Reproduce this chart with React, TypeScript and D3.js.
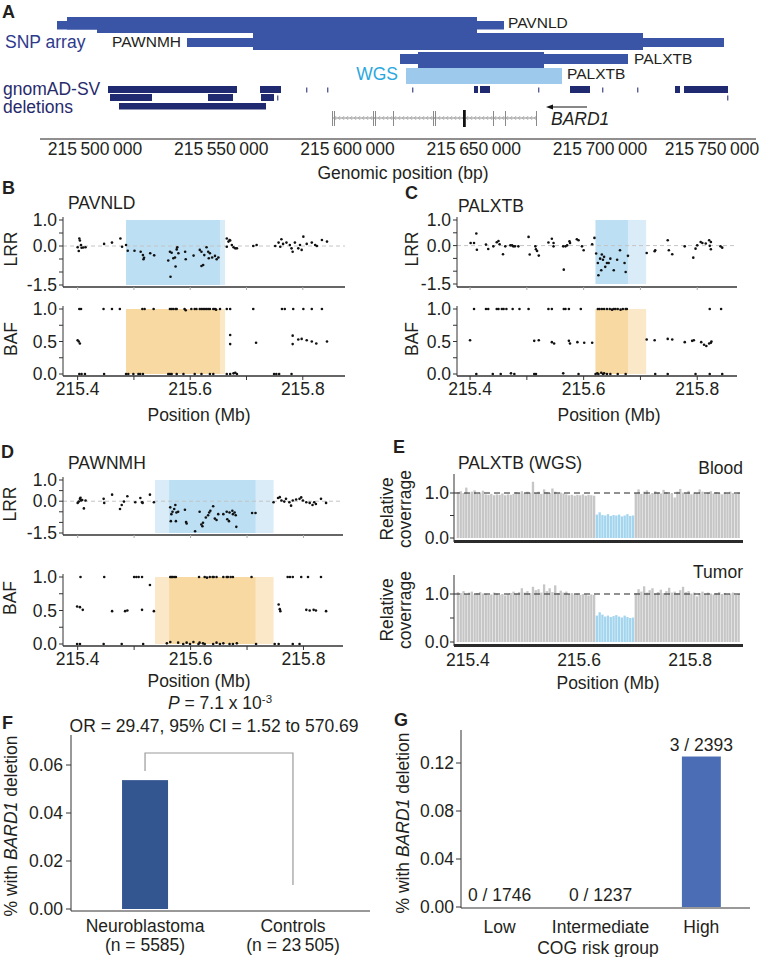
import React from "react";
import * as d3 from "d3";

const FONT = "'Liberation Sans', Arial, Helvetica, sans-serif";
const INK = "#231f20";
const AX = "#333333";

// ================= Panel A data =================
const genomicTicks = [215500000, 215550000, 215600000, 215650000, 215700000, 215750000];
const snpSamples = ["PAVNLD", "PAWNMH", "PALXTB"];
const snpOuterStart = [215484950, 215536436, 215620792];
const snpOuterEnd = [215661980, 215749109, 215711089];
const snpInnerStart = [215500792, 215562574, 215627921];
const snpInnerEnd = [215651287, 215717030, 215677822];
const snpSecondCallStart = [215488911, null, null];
const wgsSample = "PALXTB";
const wgsStart = 215623168;
const wgsEnd = 215684951;
const gnomadStart = [
  215505149, 215565347, 215583564, 215591881, 215625545, 215650099, 215652475, 215675446, 215688119, 215700792, 215714654, 215729703, 215733268,
  215505941, 215544753, 215565743, 215572079, 215750297,
  215509505,
];
const gnomadEnd = [
  215556238, 215573663, 215583900, 215592200, 215625900, 215651683, 215656436, 215675800, 215696040, 215701100, 215715000, 215731683, 215750693,
  215522574, 215554654, 215570891, 215572400, 215750650,
  215567723,
];
const gnomadRow = [0, 0, 0, 0, 0, 0, 0, 0, 0, 0, 0, 0, 0, 1, 1, 1, 1, 1, 2];
const bard1Start = 215593861;
const bard1End = 215675050;
const bard1Exons = [215593861, 215594653, 215610099, 215610891, 215618020, 215633862, 215634654, 215645743, 215657624, 215662376, 215674654];
const bard1ExonLen = [350, 350, 350, 350, 350, 350, 350, 1100, 350, 350, 350];

// ================= Panels B-D data (Mb, value) =================
type Pt = [number, number];
const mbTicks = [215.4, 215.6, 215.8];
const mbMinorTicks = [215.4, 215.5, 215.6, 215.7, 215.8];
const lrrTicks = [-1.5, -1, -0.5, 0, 0.5, 1];
const lrrLabels = [-1.5, 0, 1];
const bafTicks = [0, 0.25, 0.5, 0.75, 1];
const bafLabels = [0, 0.5, 1];

const bLrr: Pt[] = [
  [215.400, -0.05], [215.402, -0.19], [215.403, 0.29], [215.404, 0.21], [215.406, 0.04], [215.407, -0.07], [215.410, -0.06], [215.414, -0.05],
  [215.447, 0.08], [215.461, 0.13], [215.476, 0.29], [215.479, -0.03], [215.486, 0.04], [215.489, -0.18],
  [215.501, -0.18], [215.512, -0.22], [215.516, -0.35], [215.517, -0.51], [215.518, -0.45], [215.529, -0.28], [215.536, -0.36],
  [215.561, -0.56], [215.564, -0.22], [215.567, -0.26], [215.565, -1.18], [215.570, -0.47], [215.573, -0.44], [215.574, -0.79], [215.576, -0.13],
  [215.577, -0.05], [215.579, -0.28], [215.591, -0.22], [215.592, -0.51], [215.606, -0.37], [215.617, -0.15], [215.620, -0.22], [215.620, -0.77],
  [215.623, -0.73], [215.625, -0.35], [215.629, -0.05], [215.632, -0.22], [215.633, -0.47], [215.635, -0.28], [215.639, -0.44], [215.644, -0.38],
  [215.647, -0.51], [215.650, -0.44],
  [215.665, 0.29], [215.668, 0.17], [215.671, 0.21], [215.674, 0.04], [215.677, -0.05], [215.680, -0.09], [215.683, -0.09], [215.665, -0.03], [215.670, 0.23],
  [215.712, 0], [215.718, 0.04],
  [215.751, 0], [215.757, 0.13], [215.760, -0.03], [215.762, 0.26], [215.765, 0.08], [215.771, 0.13], [215.777, 0.04], [215.780, -0.09], [215.782, -0.22],
  [215.786, 0.13], [215.792, -0.09], [215.795, 0.04], [215.798, -0.15], [215.801, 0.36], [215.807, 0.08], [215.816, 0.13], [215.822, 0.04], [215.825, 0],
  [215.834, 0.23], [215.843, 0.17],
];
const bBaf: Pt[] = [
  [215.403, 1], [215.406, 1], [215.446, 1], [215.461, 1], [215.475, 1], [215.515, 1], [215.519, 1], [215.535, 1], [215.564, 1], [215.567, 1],
  [215.570, 1], [215.574, 1], [215.576, 1], [215.590, 1], [215.592, 0.98], [215.602, 1], [215.608, 1], [215.611, 1], [215.617, 1], [215.620, 1],
  [215.623, 1], [215.626, 1], [215.629, 1], [215.632, 1], [215.635, 1], [215.641, 1], [215.644, 1], [215.646, 0.99], [215.653, 1], [215.665, 1],
  [215.671, 1], [215.712, 1], [215.763, 1], [215.768, 1], [215.783, 1], [215.801, 1], [215.816, 1], [215.834, 1],
  [215.400, 0.52], [215.402, 0.5], [215.404, 0.47], [215.671, 0.6], [215.671, 0.46], [215.717, 0.48], [215.782, 0.59], [215.782, 0.46],
  [215.792, 0.53], [215.798, 0.54], [215.807, 0.52], [215.816, 0.5], [215.824, 0.47], [215.843, 0.5],
  [215.403, 0], [215.407, 0], [215.413, 0], [215.447, 0], [215.486, 0], [215.490, 0], [215.499, 0], [215.508, 0], [215.511, 0], [215.516, 0],
  [215.561, 0], [215.564, 0], [215.567, 0], [215.576, 0], [215.588, 0], [215.608, 0], [215.620, 0], [215.635, 0], [215.641, 0], [215.665, 0],
  [215.671, 0], [215.677, 0.01], [215.680, 0.02], [215.683, 0], [215.749, 0], [215.753, 0], [215.758, 0], [215.780, 0],
];

const cLrr: Pt[] = [
  [215.401, 0.10], [215.407, 0.10], [215.411, 0.47], [215.412, -0.16], [215.428, 0.04], [215.432, -0.13], [215.441, -0.03], [215.447, 0.13],
  [215.450, 0.18], [215.452, 0.05], [215.458, -0.34], [215.462, -0.03], [215.471, 0.01], [215.474, 0.01], [215.476, -0.03], [215.479, -0.03],
  [215.485, -0.03], [215.503, 0.34], [215.505, -0.35], [215.515, -0.03], [215.516, -0.14], [215.518, -0.21], [215.521, -0.39],
  [215.538, 0.12], [215.544, 0.27], [215.547, 0.10], [215.547, -0.03], [215.564, -0.03], [215.565, -0.94], [215.568, -0.03], [215.571, 0.01],
  [215.575, 0.17], [215.576, 0.10], [215.588, 0.25], [215.591, 0.21], [215.597, -0.03], [215.600, -0.18], [215.615, 0.05], [215.619, 0.30],
  [215.622, -0.31], [215.625, -0.68], [215.626, -1.16], [215.629, -0.51], [215.631, -0.96], [215.632, -0.35], [215.634, -0.55], [215.636, -0.44],
  [215.638, -0.83], [215.641, -0.68], [215.644, -0.68], [215.647, -0.51], [215.653, -0.96], [215.659, -0.55], [215.664, -0.18], [215.672, -0.68],
  [215.674, -1.03], [215.678, -0.40],
  [215.711, -0.29], [215.725, -0.22], [215.726, -0.18], [215.748, 0.21], [215.750, -0.18], [215.756, -0.34], [215.778, -0.03], [215.793, -0.47],
  [215.797, -0.12], [215.800, 0.01], [215.806, 0.14], [215.809, 0.10], [215.815, 0.08], [215.821, 0.21], [215.822, -0.01], [215.824, -0.14],
  [215.824, 0.14], [215.841, -0.03], [215.844, -0.08],
];
const cBaf: Pt[] = [
  [215.407, 1], [215.428, 1], [215.432, 1], [215.447, 1], [215.450, 1], [215.456, 1], [215.459, 1], [215.464, 1], [215.475, 1], [215.487, 1],
  [215.503, 1], [215.538, 1], [215.544, 1], [215.565, 1], [215.568, 1], [215.574, 1], [215.595, 1], [215.625, 1], [215.628, 1], [215.632, 1],
  [215.636, 1], [215.641, 1], [215.646, 1], [215.650, 0.99], [215.653, 1], [215.656, 1], [215.660, 1], [215.665, 0.99], [215.669, 1], [215.674, 1],
  [215.676, 1], [215.822, 1], [215.842, 1],
  [215.400, 0.52], [215.513, 0.51], [215.521, 0.52], [215.544, 0.49], [215.548, 0.47], [215.574, 0.51], [215.576, 0.47], [215.589, 0.49],
  [215.601, 0.48], [215.615, 0.48], [215.711, 0.53], [215.725, 0.52], [215.748, 0.54], [215.756, 0.53], [215.778, 0.49], [215.791, 0.51],
  [215.794, 0.52], [215.807, 0.49], [215.812, 0.45], [215.816, 0.43], [215.821, 0.47], [215.824, 0.48], [215.825, 0.5],
  [215.411, 0], [215.440, 0], [215.454, 0], [215.472, 0.01], [215.478, 0], [215.513, 0], [215.516, 0], [215.564, 0.01], [215.591, 0],
  [215.621, 0], [215.624, 0.01], [215.626, 0], [215.631, 0.02], [215.634, 0], [215.636, 0.01], [215.641, 0], [215.647, 0], [215.660, 0],
  [215.674, 0], [215.726, 0], [215.748, 0], [215.797, 0], [215.822, 0], [215.844, 0],
];

const dLrr: Pt[] = [
  [215.400, -0.08], [215.402, -0.02], [215.404, 0.11], [215.405, 0.16], [215.406, 0.03], [215.408, 0.06], [215.411, -0.34], [215.414, 0.03],
  [215.446, 0.11], [215.447, -0.08], [215.461, 0.31], [215.475, -0.37], [215.478, -0.18], [215.482, -0.02], [215.488, 0.23], [215.502, -0.05],
  [215.511, 0.15], [215.514, -0.05], [215.515, -0.08], [215.528, 0.31], [215.535, -0.05],
  [215.564, -0.29], [215.566, -0.61], [215.568, -0.5], [215.571, -0.37], [215.573, -0.18], [215.574, -0.94], [215.565, -0.94], [215.575, -0.53],
  [215.578, -0.5], [215.590, -0.4], [215.592, -0.98], [215.593, -1.05], [215.608, -1.42], [215.616, -0.5], [215.619, -1.1], [215.621, -1.18],
  [215.622, -1.02], [215.627, -0.77], [215.631, -0.66], [215.633, -0.53], [215.635, -0.45], [215.640, -0.24], [215.643, -0.82], [215.646, -0.89],
  [215.649, -0.61], [215.658, -0.61], [215.664, -0.5], [215.665, -0.85], [215.668, -0.94], [215.669, -0.53], [215.674, -0.45], [215.675, -0.61],
  [215.678, -0.53], [215.680, -0.66], [215.681, -1.21], [215.709, -0.56], [215.715, -0.56],
  [215.747, -0.05], [215.755, 0.15], [215.758, 0.19], [215.761, 0.03], [215.766, -0.02], [215.769, 0.11], [215.775, -0.05], [215.778, -0.21],
  [215.781, 0.03], [215.787, 0.08], [215.793, 0.11], [215.796, 0.18], [215.799, 0.03], [215.805, -0.05], [215.811, -0.08], [215.816, -0.18],
  [215.819, -0.05], [215.822, -0.13], [215.831, 0.11], [215.840, -0.08],
];
const dBaf: Pt[] = [
  [215.405, 1], [215.447, 1], [215.500, 1], [215.504, 1], [215.508, 1], [215.514, 1], [215.564, 1], [215.566, 1], [215.568, 1], [215.571, 1],
  [215.574, 1], [215.615, 1], [215.625, 1], [215.629, 0.99], [215.634, 1], [215.639, 1], [215.641, 1], [215.646, 1], [215.658, 1], [215.664, 1],
  [215.666, 1], [215.671, 1], [215.675, 1], [215.708, 1], [215.772, 1], [215.776, 1], [215.781, 1], [215.796, 1], [215.808, 1], [215.831, 1],
  [215.528, 0.88],
  [215.399, 0.56], [215.404, 0.55], [215.409, 0.51], [215.461, 0.49], [215.484, 0.49], [215.488, 0.5], [215.514, 0.51], [215.535, 0.49],
  [215.756, 0.59], [215.758, 0.52], [215.759, 0.49], [215.805, 0.51], [215.811, 0.5], [215.818, 0.51], [215.822, 0.5], [215.840, 0.49],
  [215.399, 0], [215.404, 0], [215.446, 0], [215.478, 0], [215.516, 0], [215.558, 0.01], [215.564, 0.03], [215.578, 0.02], [215.587, 0],
  [215.593, 0.02], [215.599, 0], [215.605, 0.03], [215.614, 0], [215.616, 0.02], [215.622, 0.01], [215.625, 0], [215.640, 0], [215.646, 0.02],
  [215.652, 0], [215.658, 0.01], [215.669, 0], [215.675, 0], [215.682, 0.01], [215.716, 0], [215.749, 0], [215.756, 0], [215.781, 0], [215.793, 0],
];

// ================= Panel E data =================
const covBinStart = 215.38;
const covBinSize = 0.005;
const wgsDelMb: [number, number] = [215.63, 215.7];
const bloodCov = [
  1.02, 1.04, 1.0, 1.12, 0.99, 1.03, 1.06, 0.98, 1.01, 1.05, 0.97, 0.96, 0.98, 0.95, 0.97, 0.96, 0.99, 0.95, 0.97, 0.96,
  0.98, 1.02, 1.0, 1.04, 0.99, 1.03, 1.01, 1.25, 1.0, 1.03, 0.98, 1.08, 1.02, 1.0, 1.1, 1.03, 0.98, 1.01, 0.99, 0.97,
  0.95, 0.96, 0.94, 0.96, 0.95, 0.97, 0.94, 0.96, 0.95, 0.94,
  0.52, 0.57, 0.51, 0.5, 0.53, 0.49, 0.51, 0.5, 0.52, 0.48, 0.5, 0.53, 0.49, 0.5,
  1.0, 1.08, 0.98, 1.03, 1.06, 0.97, 1.0, 1.04, 1.01, 0.99, 1.07, 1.02, 0.98, 1.0, 0.9, 1.03, 1.09, 1.01, 0.99, 1.05,
  0.97, 1.01, 1.0, 1.08, 1.03, 0.98, 1.01, 1.04, 0.99, 1.02, 1.0, 0.97, 1.01, 0.99, 1.03, 1.0, 0.98, 1.01,
];
const tumorCov = [
  1.04, 1.02, 1.06, 1.0, 1.03, 1.05, 0.99, 1.02, 1.04, 1.01, 1.0, 0.98, 0.99, 1.03, 1.01, 0.98, 1.0, 0.97, 0.99, 1.02,
  1.05, 1.01, 1.04, 1.12, 1.03, 1.06, 1.02, 1.15, 1.08, 1.1, 1.03, 1.2, 1.06, 1.12, 1.04, 1.18, 1.02, 1.07, 1.03, 1.05,
  1.0, 1.02, 0.99, 1.01, 0.98, 1.0, 0.99, 0.97, 0.99, 0.98,
  0.55, 0.62, 0.57, 0.53, 0.55, 0.52, 0.54, 0.56, 0.53, 0.51, 0.55, 0.52, 0.5, 0.51,
  1.02, 1.1, 1.05, 1.16, 1.03, 1.08, 1.12, 1.01, 1.04, 1.09, 1.02, 1.06, 1.13, 1.03, 1.05, 1.02, 1.08, 1.15, 1.04, 1.06,
  1.01, 1.03, 0.95, 1.02, 1.05, 1.0, 1.03, 1.01, 0.99, 1.02, 1.04, 1.0, 1.02, 0.99, 1.01, 1.03, 0.98, 1.0,
];

// ================= Panel F / G data =================
const cohortNames = ["Neuroblastoma", "Controls"];
const cohortN = ["5585", "23\u2009505"];
const cohortPct = [0.0537, 0];
const fTicks = [0, 0.02, 0.04, 0.06];
const bracketTopPct = 0.065;
const bracketRightEndPct = 0.01;
const riskGroups = ["Low", "Intermediate", "High"];
const riskCounts = ["0 / 1746", "0 / 1237", "3 / 2393"];
const riskPct = [0, 0, 0.1254];
const gTicks = [0, 0.04, 0.08, 0.12];

const fmt1 = (v: number) => d3.format(".1f")(v).replace("\u2212", "-");
const fmt2 = (v: number) => d3.format(".2f")(v);

function Letter({ x, y, t }: { x: number; y: number; t: string }) {
  return (
    <text x={x} y={y} fontSize={18} fontWeight="bold" fill={INK} dy="0.35em">{t}</text>
  );
}

function VLabel({ x, y, children, size = 17.5 }: any) {
  return (
    <text transform={`translate(${x},${y}) rotate(-90)`} textAnchor="middle" dy="0.35em" fontSize={size} fill={INK}>
      {children}
    </text>
  );
}

function PanelA() {
  const x = d3.scaleLinear().domain([215500000, 215700000]).range([95, 600]);
  const fmtBp = (v: number) => d3.format(",")(v).replace(/,/g, "\u2009");
  const thick = [[17, 16], [33, 17], [52, 16]];
  const thin = [[21, 8.5], [38, 9], [54, 10]];
  const gRows = [[86, 7], [94, 7], [103, 6.5]];
  const snpCol = "#3a55a5";
  const gnCol = "#202a70";
  const chevrons: number[] = [];
  for (let p = x(bard1Start) + 3; p < x(bard1End) - 2; p += 4) chevrons.push(p);
  return (
    <g>
      <Letter x={2} y={12} t="A" />
      {snpSamples.map((s, i) => (
        <g key={s}>
          <rect x={x(snpOuterStart[i])} y={thin[i][0]} width={x(snpOuterEnd[i]) - x(snpOuterStart[i])} height={thin[i][1]} fill={snpCol} />
          {snpSecondCallStart[i] != null && (
            <rect x={x(snpSecondCallStart[i] as number)} y={thick[i][0]} width={x(snpInnerEnd[i]) - x(snpSecondCallStart[i] as number)} height={thin[i][0] + thin[i][1] - thick[i][0]} fill={snpCol} />
          )}
          <rect x={x(snpInnerStart[i])} y={thick[i][0]} width={x(snpInnerEnd[i]) - x(snpInnerStart[i])} height={thick[i][1]} fill={snpCol} />
        </g>
      ))}
      <text x={x(snpOuterEnd[0]) + 4} y={23} dy="0.35em" fontSize={15.5} fill={INK}>{snpSamples[0]}</text>
      <text x={x(snpOuterStart[1]) - 6} y={42} dy="0.35em" fontSize={15.5} fill={INK} textAnchor="end">{snpSamples[1]}</text>
      <text x={x(snpOuterEnd[2]) + 6} y={59} dy="0.35em" fontSize={15.5} fill={INK}>{snpSamples[2]}</text>
      <text x={5} y={42} dy="0.35em" fontSize={17.5} fill="#2e3a8c">SNP array</text>
      <rect x={x(wgsStart)} y={68} width={x(wgsEnd) - x(wgsStart)} height={16} fill="#9dc9ec" />
      <text x={x(wgsStart) - 8} y={74} dy="0.35em" fontSize={17.5} fill="#2aa8de" textAnchor="end">WGS</text>
      <text x={x(wgsEnd) + 5} y={74} dy="0.35em" fontSize={15.5} fill={INK}>{wgsSample}</text>
      <text x={3} y={89} dy="0.35em" fontSize={17.5} fill="#272b6b">gnomAD-SV</text>
      <text x={3} y={107} dy="0.35em" fontSize={17.5} fill="#272b6b">deletions</text>
      {gnomadStart.map((s, i) => {
        const w = x(gnomadEnd[i]) - x(s);
        const narrow = w < 1.6;
        const r = gRows[gnomadRow[i]];
        return (
          <rect key={i} x={x(s)} y={narrow ? r[0] + 1.5 : r[0]} width={Math.max(w, 1.4)} height={narrow ? r[1] - 2 : r[1]} fill={gnCol} opacity={narrow ? 0.75 : 1} />
        );
      })}
      <line x1={x(bard1Start)} x2={x(bard1End)} y1={118} y2={118} stroke="#8a8a8a" strokeWidth={1} />
      {chevrons.map((p, i) => (
        <path key={i} d={`M${p + 1.2},${116} L${p - 0.6},${118} L${p + 1.2},${120}`} fill="none" stroke="#9a9a9a" strokeWidth={0.7} />
      ))}
      {bard1Exons.map((e, i) => {
        const w = Math.max(x(e + bard1ExonLen[i]) - x(e), 1);
        const big = bard1ExonLen[i] > 500;
        return <rect key={i} x={x(e)} y={big ? 110 : 111} width={w} height={big ? 17 : 15} fill={big ? "#111" : "#8a8a8a"} />;
      })}
      <line x1={x(bard1End) + 50} x2={x(bard1End) + 13} y1={107} y2={107} stroke="#111" strokeWidth={1.2} />
      <path d={`M${x(bard1End) + 9},107 L${x(bard1End) + 16},104.5 L${x(bard1End) + 16},109.5 Z`} fill="#111" />
      <text x={x(bard1End) + 14} y={119} dy="0.35em" fontSize={17.5} fontStyle="italic" fill={INK}>BARD1</text>
      <line x1={40} x2={756} y1={139} y2={139} stroke={INK} strokeWidth={1.2} />
      {genomicTicks.map((t) => {
        const cx = Math.min(x(t), 712);
        return (
          <text key={t} x={cx} y={149} dy="0.35em" fontSize={17.5} textAnchor="middle" fill={INK}>{fmtBp(t)}</text>
        );
      })}
      <text x={403} y={173} dy="0.35em" fontSize={17.5} textAnchor="middle" fill={INK}>Genomic position (bp)</text>
    </g>
  );
}

interface CnvProps {
  xLeft: number; xRight: number; xDom: [number, number];
  lrrY: [number, number]; lrrBottom: number;
  bafY: [number, number]; bafBottom: number;
  lrr: Pt[]; baf: Pt[];
  delOuter: [number, number]; delInner: [number, number];
  letter: string; letterPos: [number, number];
  title: string; titlePos: [number, number];
  yLabelX: number; lrrLabelY: number; bafLabelY: number;
  tickLabelY: number; xTitleX: number; xTitleY: number;
}

function CnvPanel(p: CnvProps) {
  const x = d3.scaleLinear().domain(p.xDom).range([p.xLeft, p.xRight]);
  const yL = d3.scaleLinear().domain([-1.5, 1]).range(p.lrrY);
  const yB = d3.scaleLinear().domain([0, 1]).range(p.bafY);
  const shade = (d: [number, number], y0: number, y1: number, fill: string) => (
    <rect x={x(d[0])} width={x(d[1]) - x(d[0])} y={y0} height={y1 - y0} fill={fill} />
  );
  return (
    <g>
      <Letter x={p.letterPos[0]} y={p.letterPos[1]} t={p.letter} />
      <text x={p.titlePos[0]} y={p.titlePos[1]} dy="0.35em" fontSize={17.5} fill={INK}>{p.title}</text>
      {shade(p.delOuter, yL(1), yL(-1.5), "#d9ecf8")}
      {shade(p.delInner, yL(1), yL(-1.5), "#bcdff3")}
      <line x1={p.xLeft} x2={p.xRight} y1={yL(0)} y2={yL(0)} stroke="#c4c4c4" strokeDasharray="4,3" strokeWidth={1} />
      {p.lrr.map((d, i) => <circle key={i} cx={x(d[0])} cy={yL(d[1])} r={1.3} fill="#111" />)}
      <line x1={p.xLeft} x2={p.xLeft} y1={yL(1) - 3} y2={p.lrrBottom} stroke={AX} strokeWidth={1} />
      <line x1={p.xLeft} x2={p.xRight} y1={p.lrrBottom} y2={p.lrrBottom} stroke={AX} strokeWidth={1.3} />
      {lrrTicks.map((t) => <line key={t} x1={p.xLeft - 4} x2={p.xLeft} y1={yL(t)} y2={yL(t)} stroke={AX} />)}
      {mbMinorTicks.map((t) => <line key={t} x1={x(t)} x2={x(t)} y1={p.lrrBottom} y2={p.lrrBottom + 3} stroke="#aaa" />)}
      {lrrLabels.map((t) => (
        <text key={t} x={p.xLeft - 6} y={yL(t)} dy="0.35em" textAnchor="end" fontSize={17.5} fill={INK}>{fmt1(t)}</text>
      ))}
      <VLabel x={p.yLabelX} y={p.lrrLabelY}>LRR</VLabel>
      {shade(p.delOuter, yB(1), yB(0), "#fbe8c9")}
      {shade(p.delInner, yB(1), yB(0), "#f8d9a2")}
      {p.baf.map((d, i) => <circle key={i} cx={x(d[0])} cy={yB(d[1])} r={1.3} fill="#111" />)}
      <line x1={p.xLeft} x2={p.xLeft} y1={yB(1) - 3} y2={p.bafBottom} stroke={AX} strokeWidth={1} />
      <line x1={p.xLeft} x2={p.xRight} y1={p.bafBottom} y2={p.bafBottom} stroke={AX} strokeWidth={1.3} />
      {bafTicks.map((t) => <line key={t} x1={p.xLeft - 4} x2={p.xLeft} y1={yB(t)} y2={yB(t)} stroke={AX} />)}
      {mbMinorTicks.map((t) => <line key={t} x1={x(t)} x2={x(t)} y1={p.bafBottom} y2={p.bafBottom + 4} stroke={AX} />)}
      {bafLabels.map((t) => (
        <text key={t} x={p.xLeft - 6} y={yB(t)} dy="0.35em" textAnchor="end" fontSize={17.5} fill={INK}>{fmt1(t)}</text>
      ))}
      <VLabel x={p.yLabelX} y={p.bafLabelY}>BAF</VLabel>
      {mbTicks.map((t) => (
        <text key={t} x={x(t)} y={p.tickLabelY} dy="0.35em" textAnchor="middle" fontSize={17.5} fill={INK}>{fmt1(t)}</text>
      ))}
      <text x={p.xTitleX} y={p.xTitleY} dy="0.35em" textAnchor="middle" fontSize={17.5} fill={INK}>Position (Mb)</text>
    </g>
  );
}

function CoverageTrack({ values, y0, y1, axisTop, label, labelY, relY }: any) {
  const x = d3.scaleLinear().domain([215.375, 215.895]).range([454, 743]);
  const y = d3.scaleLinear().domain([0, 1]).range([y0, y1]);
  const bw = x(covBinSize) - x(0);
  return (
    <g>
      {values.map((v: number, i: number) => {
        const s = covBinStart + i * covBinSize;
        const del = s >= wgsDelMb[0] - 1e-9 && s < wgsDelMb[1] - 1e-9;
        return <rect key={i} x={x(s)} y={y(v)} width={bw - 0.45} height={y(0) - y(v)} fill={del ? "#a3d5ef" : "#c6c6c6"} />;
      })}
      <line x1={454} x2={743} y1={y(1)} y2={y(1)} stroke="#222" strokeDasharray="6,4" strokeWidth={1} />
      <rect x={454} y={y(0) + 2} width={289} height={3} fill="#2b2b2b" />
      <line x1={454} x2={454} y1={axisTop} y2={y(0) + 4} stroke={AX} />
      {[0, 0.5, 1].map((t) => <line key={t} x1={450} x2={454} y1={y(t)} y2={y(t)} stroke={AX} />)}
      {[0, 1].map((t) => (
        <text key={t} x={449} y={y(t)} dy="0.35em" textAnchor="end" fontSize={17.5} fill={INK}>{fmt1(t)}</text>
      ))}
      <text x={743} y={labelY} dy="0.35em" textAnchor="end" fontSize={17.5} fill={INK}>{label}</text>
      <VLabel x={387} y={relY}>Relative</VLabel>
      <VLabel x={405} y={relY}>coverrage</VLabel>
    </g>
  );
}

function PanelE() {
  const x = d3.scaleLinear().domain([215.375, 215.895]).range([454, 743]);
  return (
    <g>
      <Letter x={393} y={447} t="E" />
      <text x={458} y={463} dy="0.35em" fontSize={17.5} fill={INK}>PALXTB (WGS)</text>
      <CoverageTrack values={bloodCov} y0={538} y1={493} axisTop={474} label="Blood" labelY={468} relY={509} />
      <CoverageTrack values={tumorCov} y0={642} y1={594} axisTop={575} label="Tumor" labelY={572} relY={610} />
      {mbTicks.map((t) => (
        <text key={t} x={x(t)} y={660} dy="0.35em" textAnchor="middle" fontSize={17.5} fill={INK}>{fmt1(t)}</text>
      ))}
      <text x={608} y={683} dy="0.35em" textAnchor="middle" fontSize={17.5} fill={INK}>Position (Mb)</text>
    </g>
  );
}

function PanelF() {
  const x = d3.scaleBand().domain(cohortNames).range([71, 367]).paddingInner(0.689).paddingOuter(0.345);
  const y = d3.scaleLinear().domain([0, 0.06]).range([909, 765]);
  const c0 = (x(cohortNames[0]) as number) + x.bandwidth() / 2;
  const c1 = (x(cohortNames[1]) as number) + x.bandwidth() / 2;
  return (
    <g>
      <Letter x={2} y={723} t="F" />
      <text x={220} y={703} dy="0.35em" textAnchor="middle" fontSize={17.5} fill={INK}>
        <tspan fontStyle="italic">P</tspan> = 7.1 x 10<tspan dy={-6} fontSize={11.5}>-3</tspan>
      </text>
      <text x={214} y={726} dy="0.35em" textAnchor="middle" fontSize={17.5} fill={INK}>OR = 29.47, 95% CI = 1.52 to 570.69</text>
      {cohortNames.map((c, i) => (
        <rect key={c} x={x(c)} y={y(cohortPct[i])} width={x.bandwidth()} height={y(0) - y(cohortPct[i])} fill="#345690" />
      ))}
      <path d={`M${c0},${y(cohortPct[0]) - 9} V${y(bracketTopPct)} H${c1} V${y(bracketRightEndPct)}`} fill="none" stroke="#9a9a9a" strokeWidth={1.2} />
      <line x1={71} x2={71} y1={735} y2={911} stroke={AX} />
      <line x1={71} x2={370} y1={911} y2={911} stroke={AX} />
      {fTicks.map((t) => (
        <g key={t}>
          <line x1={66} x2={71} y1={y(t)} y2={y(t)} stroke={AX} />
          <text x={63} y={y(t)} dy="0.35em" textAnchor="end" fontSize={17.5} fill={INK}>{fmt2(t)}</text>
        </g>
      ))}
      {cohortNames.map((c, i) => (
        <g key={c}>
          <text x={(x(c) as number) + x.bandwidth() / 2} y={926} dy="0.35em" textAnchor="middle" fontSize={17.5} fill={INK}>{c}</text>
          <text x={(x(c) as number) + x.bandwidth() / 2} y={945} dy="0.35em" textAnchor="middle" fontSize={17.5} fill={INK}>(n = {cohortN[i]})</text>
        </g>
      ))}
      <VLabel x={11} y={826}>% with <tspan fontStyle="italic">BARD1</tspan> deletion</VLabel>
    </g>
  );
}

function PanelG() {
  const x = d3.scaleBand().domain(riskGroups).range([461, 740]).paddingInner(0.614).paddingOuter(0.19);
  const y = d3.scaleLinear().domain([0, 0.12]).range([907, 763]);
  return (
    <g>
      <Letter x={394} y={720} t="G" />
      {riskGroups.map((g, i) => (
        <g key={g}>
          <rect x={x(g)} y={y(riskPct[i])} width={x.bandwidth()} height={y(0) - y(riskPct[i])} fill="#4a6db5" />
          <text x={(x(g) as number) + x.bandwidth() / 2} y={y(riskPct[i]) - 12} dy="0.35em" textAnchor="middle" fontSize={17.5} fill={INK}>{riskCounts[i]}</text>
          <text x={(x(g) as number) + x.bandwidth() / 2} y={927} dy="0.35em" textAnchor="middle" fontSize={17.5} fill={INK}>{g}</text>
        </g>
      ))}
      <line x1={461} x2={461} y1={730} y2={908} stroke={AX} />
      <line x1={461} x2={750} y1={908} y2={908} stroke={AX} />
      {gTicks.map((t) => (
        <g key={t}>
          <line x1={456} x2={461} y1={y(t)} y2={y(t)} stroke={AX} />
          <text x={454} y={y(t)} dy="0.35em" textAnchor="end" fontSize={17.5} fill={INK}>{fmt2(t)}</text>
        </g>
      ))}
      <text x={598} y={948} dy="0.35em" textAnchor="middle" fontSize={17.5} fill={INK}>COG risk group</text>
      <VLabel x={403} y={823}>% with <tspan fontStyle="italic">BARD1</tspan> deletion</VLabel>
    </g>
  );
}

export default function App() {
  return (
    <svg width={760} height={957} viewBox="0 0 760 957" style={{ position: "absolute", left: 0, top: 0, background: "#fff" }} fontFamily={FONT}>
      <rect width={760} height={957} fill="#fff" />
      <PanelA />
      <CnvPanel
        xLeft={63} xRight={345} xDom={[215.374, 215.875]}
        lrrY={[285, 220]} lrrBottom={287} bafY={[374, 309]} bafBottom={376}
        lrr={bLrr} baf={bBaf} delOuter={[215.486, 215.662]} delInner={[215.486, 215.653]}
        letter="B" letterPos={[2, 188]} title="PAVNLD" titlePos={[68, 203]}
        yLabelX={11} lrrLabelY={249} bafLabelY={339} tickLabelY={389} xTitleX={199} xTitleY={415}
      />
      <CnvPanel
        xLeft={457} xRight={737} xDom={[215.377, 215.870]}
        lrrY={[284, 220]} lrrBottom={287} bafY={[374, 309]} bafBottom={376}
        lrr={cLrr} baf={cBaf} delOuter={[215.621, 215.710]} delInner={[215.621, 215.678]}
        letter="C" letterPos={[405, 193]} title="PALXTB" titlePos={[458, 206]}
        yLabelX={412} lrrLabelY={249} bafLabelY={339} tickLabelY={389} xTitleX={609} xTitleY={415}
      />
      <CnvPanel
        xLeft={63} xRight={343} xDom={[215.374, 215.870]}
        lrrY={[533, 480]} lrrBottom={535} bafY={[644, 577]} bafBottom={646}
        lrr={dLrr} baf={dBaf} delOuter={[215.537, 215.747]} delInner={[215.562, 215.715]}
        letter="D" letterPos={[1, 452]} title="PAWNMH" titlePos={[68, 463]}
        yLabelX={10} lrrLabelY={504} bafLabelY={598} tickLabelY={659} xTitleX={199} xTitleY={681}
      />
      <PanelE />
      <PanelF />
      <PanelG />
    </svg>
  );
}
